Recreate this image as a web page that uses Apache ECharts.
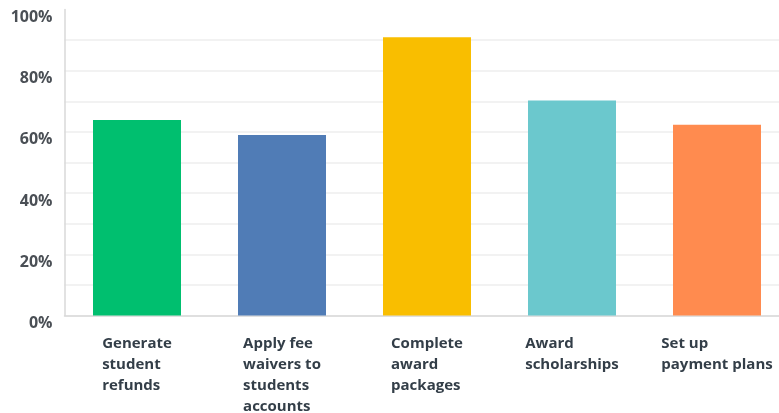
<!DOCTYPE html>
<html>
<head>
<meta charset="utf-8">
<script src="https://cdn.jsdelivr.net/npm/echarts@6/dist/echarts.min.js"></script>
<style>
html,body{margin:0;padding:0;background:#fff;}
#chart{width:779px;height:413px;}
</style>
</head>
<body>
<div id="chart"></div>
<script>
var categories = [
  "Generate\nstudent\nrefunds",
  "Apply fee\nwaivers to\nstudents\naccounts",
  "Complete\naward\npackages",
  "Award\nscholarships",
  "Set up\npayment plans"
];
var values = [63.9, 59.0, 90.9, 70.3, 62.3];
var barColors = ["#00bf6f", "#507cb6", "#f9be00", "#6bc8cd", "#ff8b4f"];
var yTickLabels = ["0%", "20%", "40%", "60%", "80%", "100%"];

var splitColors = [];
for (var i = 0; i < 11; i++) splitColors.push(i === 10 ? "rgba(0,0,0,0)" : "#eeeeee");

var chart = echarts.init(document.getElementById("chart"));
chart.setOption({
  animation: false,
  grid: { left: 64.5, width: 725, top: 9.5, bottom: 97.5, containLabel: false, outerBoundsMode: "none" },
  xAxis: {
    type: "category",
    data: categories,
    axisLine: { lineStyle: { color: "#d9d9d9", width: 1.5 } },
    axisTick: { show: false },
    axisLabel: {
      interval: 0,
      margin: 18,
      align: "center",
      hideOverlap: false,
      formatter: function (v) {
        return v.split("\n").map(function (s) { return "{a|" + s + "}"; }).join("\n");
      },
      rich: {
        a: {
          align: "left",
          fontFamily: "Open Sans",
          fontWeight: "bold",
          fontSize: 15,
          lineHeight: 21,
          color: "#333e48"
        }
      }
    }
  },
  yAxis: {
    type: "value",
    min: 0,
    max: 100,
    interval: 10,
    axisLine: { show: true, lineStyle: { color: "#d9d9d9", width: 1.5 } },
    axisTick: { show: false },
    splitLine: { lineStyle: { color: splitColors, width: 1.5 } },
    axisLabel: {
      margin: 12,
      verticalAlign: "top",
      fontFamily: "Open Sans",
      fontWeight: "bold",
      fontSize: 16,
      lineHeight: 16,
      color: "#4a4f55",
      formatter: function (v) {
        if (v % 20 !== 0) return "";
        return yTickLabels[v / 20];
      }
    }
  },
  series: [{
    type: "bar",
    data: values.map(function (v, i) {
      return { value: v, itemStyle: { color: barColors[i] } };
    }),
    barWidth: 88
  }]
});
</script>
</body>
</html>
